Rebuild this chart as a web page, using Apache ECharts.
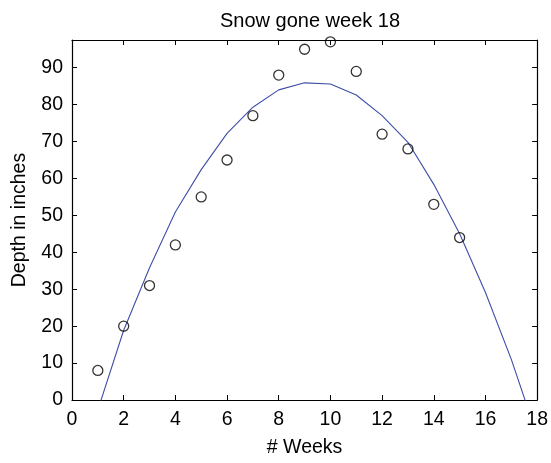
<!DOCTYPE html>
<html>
<head>
<meta charset="utf-8">
<script src="https://cdn.jsdelivr.net/npm/echarts@6/dist/echarts.min.js"></script>
<style>
  html, body { margin: 0; padding: 0; background: #fff; }
  #chart { width: 551px; height: 463px; }
</style>
</head>
<body>
<div id="chart"></div>
<script>
// Measured snow depth by week
const weeks = [1, 2, 3, 4, 5, 6, 7, 8, 9, 10, 11, 12, 13, 14, 15];
const depth = [8, 20, 31, 42, 55, 65, 77, 88, 95, 97, 89, 72, 68, 53, 44];

// Fitted curve, evaluated at whole weeks
const fitWeeks = [1, 2, 3, 4, 5, 6, 7, 8, 9, 10, 11, 12, 13, 14, 15, 16, 17, 18];
const fitDepth = [-2.7, 18.9, 35.8, 50.9, 62.4, 72.2, 79.3, 84.0, 85.9, 85.6, 82.6, 77.0, 69.8, 58.4, 45.0, 29.1, 11.0, -9.7];

const xTicks = [0, 2, 4, 6, 8, 10, 12, 14, 16, 18];
const yTicks = [0, 10, 20, 30, 40, 50, 60, 70, 80, 90];

const FONT = 'Liberation Sans, Arial, Helvetica, sans-serif';
const chart = echarts.init(document.getElementById('chart'), null, { renderer: 'canvas' });

const frameLine = { show: true, onZero: false, lineStyle: { color: '#000', width: 1.2 } };
const innerTick = { show: true, inside: true, length: 5, lineStyle: { color: '#000', width: 1 } };

chart.setOption({
  animation: false,
  backgroundColor: '#fff',
  title: {
    text: 'Snow gone week 18',
    left: 305, top: 6, textAlign: 'center',
    textStyle: { fontFamily: FONT, fontSize: 20, fontWeight: 'normal', color: '#000' }
  },
  grid: { left: 72, right: 13, top: 40, bottom: 57, containLabel: false },
  xAxis: [
    {
      type: 'value', min: xTicks[0], max: xTicks[xTicks.length - 1], interval: 2,
      position: 'bottom',
      name: '# Weeks', nameLocation: 'middle', nameGap: 38,
      nameTextStyle: { fontFamily: FONT, fontSize: 19.5, color: '#000' },
      axisLine: frameLine, axisTick: innerTick,
      axisLabel: { fontFamily: FONT, fontSize: 19.5, color: '#000', margin: 10 },
      splitLine: { show: false }
    },
    {
      type: 'value', min: xTicks[0], max: xTicks[xTicks.length - 1], interval: 2,
      position: 'top',
      axisLine: frameLine, axisTick: innerTick,
      axisLabel: { show: false }, splitLine: { show: false }
    }
  ],
  yAxis: [
    {
      type: 'value', min: yTicks[0], max: 97.5, interval: 10,
      position: 'left',
      name: 'Depth in inches', nameLocation: 'middle', nameGap: 42, nameRotate: 90,
      nameTextStyle: { fontFamily: FONT, fontSize: 19.5, color: '#000' },
      axisLine: frameLine, axisTick: innerTick,
      axisLabel: { fontFamily: FONT, fontSize: 19.5, color: '#000', margin: 9, showMaxLabel: false },
      splitLine: { show: false }
    },
    {
      type: 'value', min: yTicks[0], max: 97.5, interval: 10,
      position: 'right',
      axisLine: frameLine, axisTick: innerTick,
      axisLabel: { show: false }, splitLine: { show: false }
    }
  ],
  series: [
    {
      name: 'fit', type: 'line',
      data: fitWeeks.map((w, i) => [w, fitDepth[i]]),
      showSymbol: false, clip: true,
      lineStyle: { color: '#3d4fa8', width: 1.1 },
      z: 2
    },
    {
      name: 'depth', type: 'scatter',
      data: weeks.map((w, i) => [w, depth[i]]),
      symbol: 'circle', symbolSize: 10, clip: false,
      itemStyle: { color: 'rgba(0,0,0,0)', borderColor: '#000', borderWidth: 1.3 },
      z: 3
    }
  ]
});
</script>
</body>
</html>
